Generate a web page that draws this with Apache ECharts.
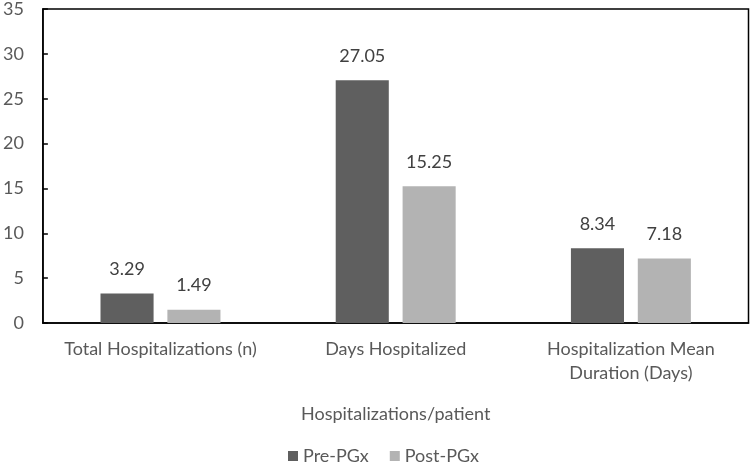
<!DOCTYPE html>
<html><head><meta charset="utf-8">
<script src="https://cdn.jsdelivr.net/npm/echarts@6/dist/echarts.min.js"></script>
<style>html,body{margin:0;padding:0;background:#fff}#c{width:750px;height:463px}</style>
</head><body><div id="c"></div>
<script>
const categories = ['Total Hospitalizations (n)', 'Days Hospitalized', 'Hospitalization Mean\nDuration (Days)'];
const prePGx = [3.29, 27.05, 8.34];
const postPGx = [1.49, 15.25, 7.18];
const seriesNames = ['Pre-PGx', 'Post-PGx'];
const yTicks = [0, 5, 10, 15, 20, 25, 30, 35];

const FONT = 'Lato';
const FS = 18;
const chart = echarts.init(document.getElementById('c'));
chart.setOption({
  animation: false,
  textStyle: { fontFamily: FONT },
  grid: { left: 39, right: 1.5, top: 8, bottom: 140, show: true, borderColor: '#000', borderWidth: 1.5 },
  legend: {
    data: seriesNames, top: 442, left: 283, itemWidth: 10, itemHeight: 10, itemGap: 21,
    icon: 'rect', textStyle: { fontSize: FS, color: '#595959', fontFamily: FONT }
  },
  xAxis: {
    type: 'category', data: categories,
    name: 'Hospitalizations/patient', nameLocation: 'middle', nameGap: 82,
    nameTextStyle: { fontSize: FS, color: '#595959', fontFamily: FONT },
    axisLine: { lineStyle: { color: '#000', width: 1.5 } },
    axisTick: { show: false },
    axisLabel: { fontSize: FS, color: '#595959', margin: 14, lineHeight: 24, interval: 0, fontFamily: FONT }
  },
  yAxis: {
    type: 'value', min: yTicks[0], max: yTicks[yTicks.length - 1], interval: 5,
    splitLine: { show: false },
    axisLine: { show: true, lineStyle: { color: '#000', width: 1.5 } },
    axisTick: { show: true, inside: true, length: 5, lineStyle: { color: '#000', width: 1.5 } },
    axisLabel: { fontSize: FS, color: '#595959', margin: 19, fontFamily: FONT }
  },
  series: [
    { name: seriesNames[0], type: 'bar', data: prePGx, barGap: '26%', barCategoryGap: '49%',
      itemStyle: { color: '#5f5f5f' },
      label: { show: true, position: 'top', distance: 15, fontSize: FS, color: '#404040', fontFamily: FONT, formatter: p => p.value.toFixed(2) } },
    { name: seriesNames[1], type: 'bar', data: postPGx,
      itemStyle: { color: '#b3b3b3' },
      label: { show: true, position: 'top', distance: 15, fontSize: FS, color: '#404040', fontFamily: FONT, formatter: p => p.value.toFixed(2) } }
  ]
});
</script></body></html>
